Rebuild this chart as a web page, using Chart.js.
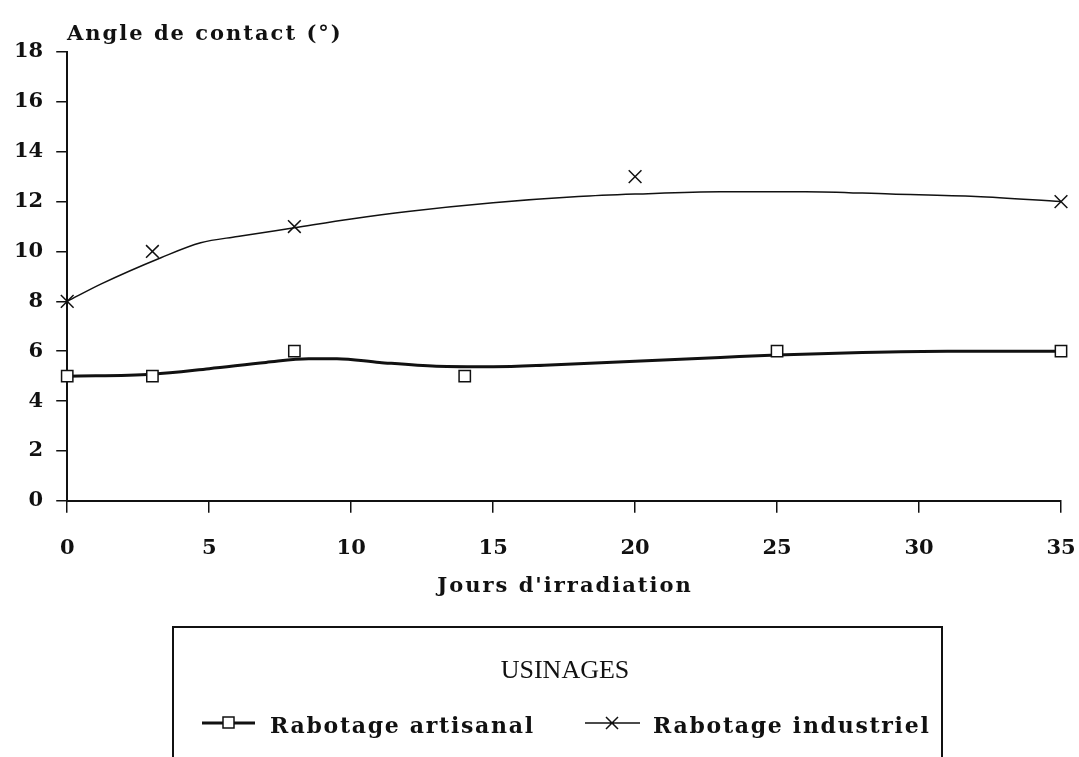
<!DOCTYPE html>
<html>
<head>
<meta charset="utf-8">
<script src="https://cdn.jsdelivr.net/npm/chart.js@4"></script>
<style>
  html, body { margin: 0; padding: 0; background: #fff; overflow: hidden; }
  #wrap { width: 1079px; height: 757px; }
</style>
</head>
<body>
<div id="wrap"><canvas id="graph"></canvas></div>
<script>
// measured points
const artisanalDays = [0, 3, 8, 14, 25, 35];
const artisanalAngle = [5, 5, 6, 5, 6, 6];
const industrielDays = [0, 3, 8, 20, 35];
const industrielAngle = [8, 10, 11, 13, 12];

// fitted curves
const artisanalCurveDays = [0, 3, 5, 7, 8.5, 9.5, 11, 13, 15, 17, 20, 23, 25, 28, 31, 35];
const artisanalCurve = [5.0, 5.08, 5.3, 5.55, 5.7, 5.7, 5.55, 5.4, 5.38, 5.45, 5.6, 5.75, 5.85, 5.95, 6.0, 6.0];
const industrielCurveDays = [0, 1.2, 3.3, 4.7, 6, 8, 10, 12, 15, 18, 20, 23, 26, 29, 32, 35];
const industrielCurve = [8.0, 8.7, 9.75, 10.35, 10.6, 10.95, 11.3, 11.6, 11.95, 12.2, 12.3, 12.4, 12.4, 12.3, 12.2, 12.0];

const xTicks = [0, 5, 10, 15, 20, 25, 30, 35];
const yTicks = [0, 2, 4, 6, 8, 10, 12, 14, 16, 18];

const ink = '#111';
const serif = '"DejaVu Serif", serif';

function pairs(xs, ys) {
    return xs.map((d, i) => ({ x: d, y: ys[i] }));
}

// titles + legend box drawn by hand (typewriter spacing)
const extras = {
    id: 'extras',
    afterDraw(chart) {
        const ctx = chart.ctx;
        ctx.save();
        ctx.fillStyle = ink;
        ctx.strokeStyle = ink;

        ctx.letterSpacing = '2px';
        ctx.font = 'bold 21px ' + serif;
        ctx.textAlign = 'left';
        ctx.textBaseline = 'alphabetic';
        ctx.fillText('Angle de contact (°)', 67, 40);

        ctx.textAlign = 'center';
        ctx.fillText("Jours d'irradiation", 565, 592);

        // legend frame
        ctx.letterSpacing = '0px';
        ctx.lineWidth = 2;
        ctx.beginPath();
        ctx.moveTo(173, 800);
        ctx.lineTo(173, 627);
        ctx.lineTo(942, 627);
        ctx.lineTo(942, 800);
        ctx.stroke();

        ctx.font = '26px "Liberation Serif", serif';
        ctx.textAlign = 'center';
        ctx.fillText('USINAGES', 565, 678);

        // artisanal entry
        ctx.lineWidth = 3;
        ctx.beginPath();
        ctx.moveTo(202, 723);
        ctx.lineTo(255, 723);
        ctx.stroke();
        ctx.lineWidth = 1.5;
        ctx.fillStyle = '#fff';
        ctx.fillRect(223, 717, 11, 11);
        ctx.strokeRect(223, 717, 11, 11);

        // industriel entry
        ctx.lineWidth = 1.5;
        ctx.beginPath();
        ctx.moveTo(585, 723);
        ctx.lineTo(640, 723);
        ctx.moveTo(606, 717);
        ctx.lineTo(618, 729);
        ctx.moveTo(618, 717);
        ctx.lineTo(606, 729);
        ctx.stroke();

        ctx.fillStyle = ink;
        ctx.letterSpacing = '1.7px';
        ctx.font = 'bold 22px ' + serif;
        ctx.textAlign = 'left';
        ctx.fillText('Rabotage artisanal', 270, 733);
        ctx.fillText('Rabotage industriel', 653, 733);
        ctx.restore();
    }
};

const ctx = document.getElementById('graph').getContext('2d');

const config = {
    type: 'line',
    data: {
        datasets: [
            {
                label: 'Rabotage artisanal (courbe)',
                data: pairs(artisanalCurveDays, artisanalCurve),
                borderColor: ink,
                borderWidth: 3,
                pointRadius: 0,
                cubicInterpolationMode: 'monotone',
                clip: false,
                order: 2
            },
            {
                label: 'Rabotage industriel (courbe)',
                data: pairs(industrielCurveDays, industrielCurve),
                borderColor: ink,
                borderWidth: 1.5,
                pointRadius: 0,
                cubicInterpolationMode: 'monotone',
                clip: false,
                order: 2
            },
            {
                label: 'Rabotage artisanal',
                data: pairs(artisanalDays, artisanalAngle),
                showLine: false,
                pointStyle: 'rect',
                pointRadius: 8,
                pointBorderWidth: 1.5,
                pointBorderColor: ink,
                pointBackgroundColor: '#fff',
                clip: false,
                order: 1
            },
            {
                label: 'Rabotage industriel',
                data: pairs(industrielDays, industrielAngle),
                showLine: false,
                pointStyle: 'crossRot',
                pointRadius: 9,
                pointBorderWidth: 1.5,
                pointBorderColor: ink,
                clip: false,
                order: 1
            }
        ]
    },
    options: {
        responsive: true,
        maintainAspectRatio: false,
        animation: false,
        layout: {
            padding: { left: 1, right: 0, top: 52, bottom: 173 }
        },
        plugins: {
            legend: { display: false },
            tooltip: { enabled: false }
        },
        scales: {
            x: {
                type: 'linear',
                min: 0,
                max: 35,
                afterBuildTicks: (axis) => { axis.ticks = xTicks.map(v => ({ value: v })); },
                // tick padding is otherwise added to the right margin too
                afterFit: (axis) => { axis.paddingRight = 18; },
                border: { display: true, color: ink, width: 2 },
                grid: { drawOnChartArea: false, drawTicks: true, tickLength: 12, color: ink, lineWidth: 1.5 },
                ticks: {
                    color: ink,
                    padding: 23,
                    font: { family: serif, size: 21, weight: 'bold' }
                }
            },
            y: {
                min: 0,
                max: 18,
                afterBuildTicks: (axis) => { axis.ticks = yTicks.map(v => ({ value: v })); },
                border: { display: true, color: ink, width: 2 },
                grid: { drawOnChartArea: false, drawTicks: true, tickLength: 11, color: ink, lineWidth: 1.5 },
                ticks: {
                    color: ink,
                    padding: 13,
                    font: { family: serif, size: 21, weight: 'bold' }
                }
            }
        }
    },
    plugins: [extras]
};

const mychart = new Chart(ctx, config);
</script>
</body>
</html>
